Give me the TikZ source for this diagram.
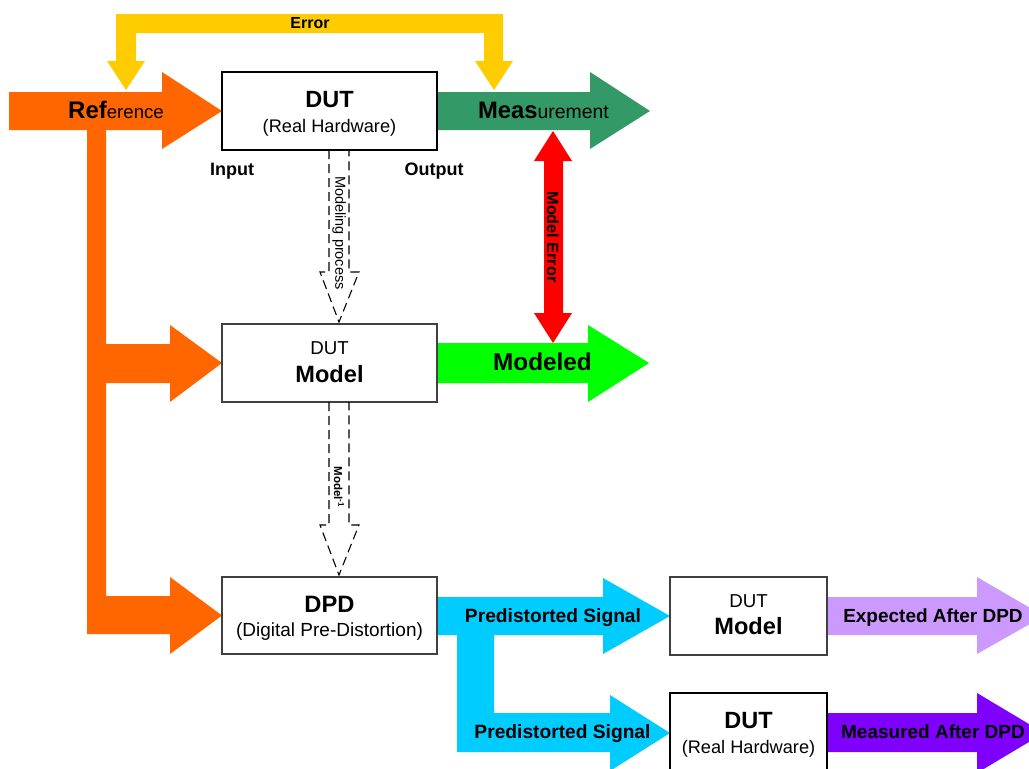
\documentclass[tikz,border=0pt]{standalone}
\usepackage{fontspec}
\setmainfont{Liberation Sans}
\newcommand\setfs[1]{\fontsize{#1pt}{#1pt}\selectfont}
\definecolor{cOrange}{HTML}{FF6600}
\definecolor{cYellow}{HTML}{FFCC00}
\definecolor{cMeas}{HTML}{339966}
\definecolor{cLime}{HTML}{00FF00}
\definecolor{cRed}{HTML}{FF0000}
\definecolor{cCyan}{HTML}{00CCFF}
\definecolor{cLilac}{HTML}{CC99FF}
\definecolor{cViolet}{HTML}{8000FF}
\definecolor{cBoxLine}{HTML}{404040}
\begin{document}
\begin{tikzpicture}[x=1pt,y=-1pt,
  hwbox/.style={draw=black, line width=2.4pt, fill=white, inner sep=0pt},
  mdbox/.style={draw=cBoxLine, line width=1.2pt, fill=white, inner sep=0pt},
  lbl/.style={anchor=base, inner sep=0pt, outer sep=0pt},
  vlbl/.style={anchor=center, inner sep=0pt, rotate=-90},
  dasharrow/.style={draw=black, line width=1.1pt, dash pattern=on 9pt off 5pt}
]
\useasboundingbox (0,0) rectangle (1029,769);
\clip (0,0) rectangle (1029,769);

% boxes (positions only, drawn later on top)
\path
  (329.5,111) coordinate (c1)
  (329.5,363) coordinate (c2)
  (329.5,615.5) coordinate (c3)
  (748.5,616) coordinate (c4)
  (748.5,735) coordinate (c5);

% Error arrow (yellow)
\fill[cYellow] (116,61) -- (116,14) -- (503,14) -- (503,61) -- (513,61) -- (494,90)
  -- (475,61) -- (484,61) -- (484,33) -- (136,33) -- (136,61) -- (145,61) -- (126,90)
  -- (107,61) -- cycle;

% Reference arrows (orange)
\fill[cOrange] (9,92) -- (162,92) -- (162,72) -- (222,111) -- (162,149) -- (162,130)
  -- (106,130) -- (106,344) -- (170,344) -- (170,325) -- (222,363) -- (170,402) -- (170,383)
  -- (106,383) -- (106,596) -- (170,596) -- (170,577) -- (222,615.5) -- (170,654) -- (170,634)
  -- (87,634) -- (87,130) -- (9,130) -- cycle;

% Measurement arrow
\fill[cMeas] (437,92) -- (590,92) -- (590,72) -- (650,111) -- (590,149) -- (590,130) -- (437,130) -- cycle;

% Modeled arrow
\fill[cLime] (437,343) -- (588,343) -- (588,325) -- (649,363) -- (588,402) -- (588,383) -- (437,383) -- cycle;

% Model error double arrow
\fill[cRed] (544,161) -- (534,161) -- (553,131) -- (572,161) -- (563,161) -- (563,313)
  -- (572,313) -- (553,343) -- (534,313) -- (544,313) -- cycle;

% Predistorted signal arrows (cyan)
\fill[cCyan] (437,597) -- (603,597) -- (603,578) -- (670,616) -- (603,654) -- (603,635)
  -- (494,635) -- (494,713) -- (610,713) -- (610,695) -- (670,733) -- (610,771) -- (610,752)
  -- (457,752) -- (457,635) -- (437,635) -- cycle;

% Expected after DPD
\fill[cLilac] (827,597) -- (977,597) -- (977,577) -- (1044,616) -- (977,654) -- (977,635) -- (827,635) -- cycle;
% Measured after DPD
\fill[cViolet] (827,713) -- (977,713) -- (977,693) -- (1044,733) -- (977,773) -- (977,752) -- (827,752) -- cycle;

% boxes
\node[hwbox, minimum width=215pt, minimum height=78pt] (dut) at (c1) {};
\node[mdbox, minimum width=215pt, minimum height=78pt] (model) at (c2) {};
\node[mdbox, minimum width=215pt, minimum height=77pt] (dpd) at (c3) {};
\node[mdbox, minimum width=157pt, minimum height=78pt] (modelb) at (c4) {};
\node[hwbox, minimum width=157pt, minimum height=84pt] (dutb) at (c5) {};

% dashed block arrows
\draw[dasharrow] (329,150) -- (329,272) -- (320,272) -- (339,322) -- (359,272) -- (349,272) -- (349,150);
\draw[dasharrow] (329,402) -- (329,525) -- (320,525) -- (339,575) -- (359,525) -- (349,525) -- (349,402);

% texts
\node[lbl] (terr) at (310,28) {\setfs{16}\bfseries Error};
\node[lbl] (tref) at (116,118) {\setfs{24}\bfseries Ref\setfs{18.6}\mdseries erence};
\node[lbl] (tdut1) at (329.5,107) {\setfs{23.5}\bfseries DUT};
\node[lbl] (trh1) at (329.5,132) {\setfs{18.2}(Real Hardware)};
\node[lbl] (tin) at (232,175) {\setfs{18}\bfseries Input};
\node[lbl] (tout) at (434,175) {\setfs{18}\bfseries Output};
\node[lbl] (tmeas) at (543.5,118) {\setfs{23.8}\bfseries Meas\setfs{19.4}\mdseries urement};
\node[lbl] (tmodeled) at (542.5,370) {\setfs{24.3}\bfseries Modeled};
\node[vlbl] (tmerr) at (553,237) {\setfs{16.2}\bfseries Model Error};
\node[vlbl] (tmproc) at (339,233) {\setfs{14.5}Modeling process};
\node[vlbl] (tminv) at (339,487) {\setfs{11.5}\bfseries Model\textsuperscript{-1}};
\node[lbl] (tdut2) at (329.5,354) {\setfs{18.7}DUT};
\node[lbl] (tmodel2) at (329.5,382) {\setfs{23.6}\bfseries Model};
\node[lbl] (tdpd) at (329.5,612) {\setfs{23.7}\bfseries DPD};
\node[lbl] (tdpdl) at (329.5,636) {\setfs{19}(Digital Pre-Distortion)};
\node[lbl] (tps1) at (553,622) {\setfs{19.2}\bfseries Predistorted Signal};
\node[lbl] (tps2) at (562.5,738) {\setfs{19.2}\bfseries Predistorted Signal};
\node[lbl] (tdut3) at (748.5,607) {\setfs{18.7}DUT};
\node[lbl] (tmodel3) at (748.5,634) {\setfs{23.6}\bfseries Model};
\node[lbl] (tdut4) at (748.5,728) {\setfs{23.5}\bfseries DUT};
\node[lbl] (trh4) at (748.5,753) {\setfs{18.2}(Real Hardware)};
\node[lbl] (texp) at (933,622) {\setfs{19}\bfseries Expected After DPD};
\node[lbl] (tmad) at (933,738) {\setfs{19}\bfseries Measured After DPD};
\end{tikzpicture}
\end{document}
